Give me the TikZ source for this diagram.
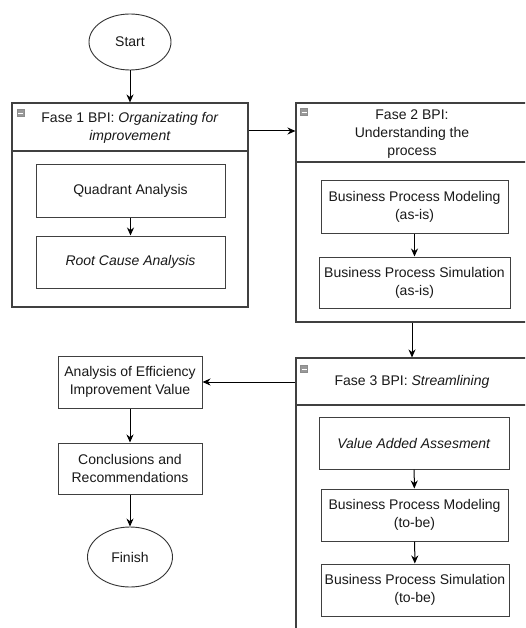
\documentclass[tikz,border=0pt]{standalone}
\usepackage{fontspec}
\setmainfont{Liberation Sans}
\usetikzlibrary{arrows.meta,shapes.geometric}
\begin{document}
\begin{tikzpicture}[x=1pt,y=-1pt,
  every node/.style={font=\fontsize{14}{18}\selectfont, text=black!90},
  box/.style={draw=black!75, line width=1pt, rectangle, align=center, inner sep=2pt},
  oval/.style={draw=black!80, line width=0.9pt, ellipse, inner sep=0pt},
  cont/.style={draw=black!75, line width=1.1pt, rectangle, inner sep=0pt},
  sep/.style={draw=black!75, line width=1.1pt},
  arr/.style={draw=black, line width=1pt, -{Stealth[length=8pt,width=7pt]}},
  icon/.style={fill=black!40, draw=black!45, line width=0.4pt, rectangle, minimum size=7pt, inner sep=0pt}
]
\clip (0,0) rectangle (525,628);
\useasboundingbox (0,0) rectangle (525,628);
\fill[white] (0,0) rectangle (525,628);

% Start
\node[oval, minimum width=82pt, minimum height=56pt] (start) at (130,42) {Start};

% Fase 1 container
\node[cont, minimum width=236pt, minimum height=204pt] (f1) at (130,205) {};
\coordinate (f1d) at (12,151);
\draw[sep] (f1d) -- (f1d -| f1.east);
\node[align=center] (f1h) at (130,128) {Fase 1 BPI: \textit{Organizating for}\\\textit{improvement}};
\node[icon] (f1i) at (20.5,113) {};
\draw[white, line width=0.8pt] ([xshift=1.2pt]f1i.west) -- ([xshift=-1.2pt]f1i.east);
\node[box, minimum width=189pt, minimum height=52pt] (qa) at (130.5,191) {Quadrant Analysis};
\node[box, minimum width=189pt, minimum height=52pt] (rca) at (130.5,262) {\textit{Root Cause Analysis}};

% Fase 2 container
\node[cont, minimum width=232pt, minimum height=219pt] (f2) at (412,212.5) {};
\coordinate (f2d) at (296,162);
\draw[sep] (f2d) -- (f2d -| f2.east);
\node[align=center] (f2h) at (412,134) {Fase 2 BPI:\\Understanding the\\process};
\node[icon] (f2i) at (304,112) {};
\draw[white, line width=0.8pt] ([xshift=1.2pt]f2i.west) -- ([xshift=-1.2pt]f2i.east);
\node[box, minimum width=187pt, minimum height=52pt] (bpm1) at (414.5,207) {Business Process Modeling\\(as-is)};
\node[box, minimum width=191pt, minimum height=51pt] (bps1) at (414.5,282.5) {Business Process Simulation\\(as-is)};

% Fase 3 container
\node[cont, minimum width=232pt, minimum height=290pt] (f3) at (412,503) {};
\coordinate (f3d) at (296,405);
\draw[sep] (f3d) -- (f3d -| f3.east);
\node (f3h) at (412,382) {Fase 3 BPI: \textit{Streamlining}};
\node[icon] (f3i) at (304,369) {};
\draw[white, line width=0.8pt] ([xshift=1.2pt]f3i.west) -- ([xshift=-1.2pt]f3i.east);
\node[box, minimum width=190pt, minimum height=52pt] (vaa) at (414,443) {\textit{Value Added Assesment}};
\node[box, minimum width=187pt, minimum height=52pt] (bpm2) at (414.5,515) {Business Process Modeling\\(to-be)};
\node[box, minimum width=188pt, minimum height=52pt] (bps2) at (415,590) {Business Process Simulation\\(to-be)};

% Left column
\node[box, minimum width=144pt, minimum height=52pt] (aeiv) at (130,382) {Analysis of Efficiency\\Improvement Value};
\node[box, minimum width=144pt, minimum height=51pt] (cr) at (130,468.5) {Conclusions and\\Recommendations};
\node[oval, minimum width=85pt, minimum height=60pt] (finish) at (130,557) {Finish};

% Connectors
\coordinate (link12) at (272,131);
\draw[arr] (start) -- (f1.north);
\draw[arr] (qa) -- (rca);
\draw[arr] (link12 -| f1.east) -- (link12 -| f2.west);
\draw[arr] (bpm1) -- (bps1);
\draw[arr] (f2.south) -- (f3.north);
\draw[arr] (vaa) -- (bpm2);
\draw[arr] (bpm2) -- (bps2);
\draw[arr] (f3h -| f3.west) -- (aeiv.east);
\draw[arr] (aeiv) -- (cr);
\draw[arr] (cr) -- (finish);
\end{tikzpicture}
\end{document}
